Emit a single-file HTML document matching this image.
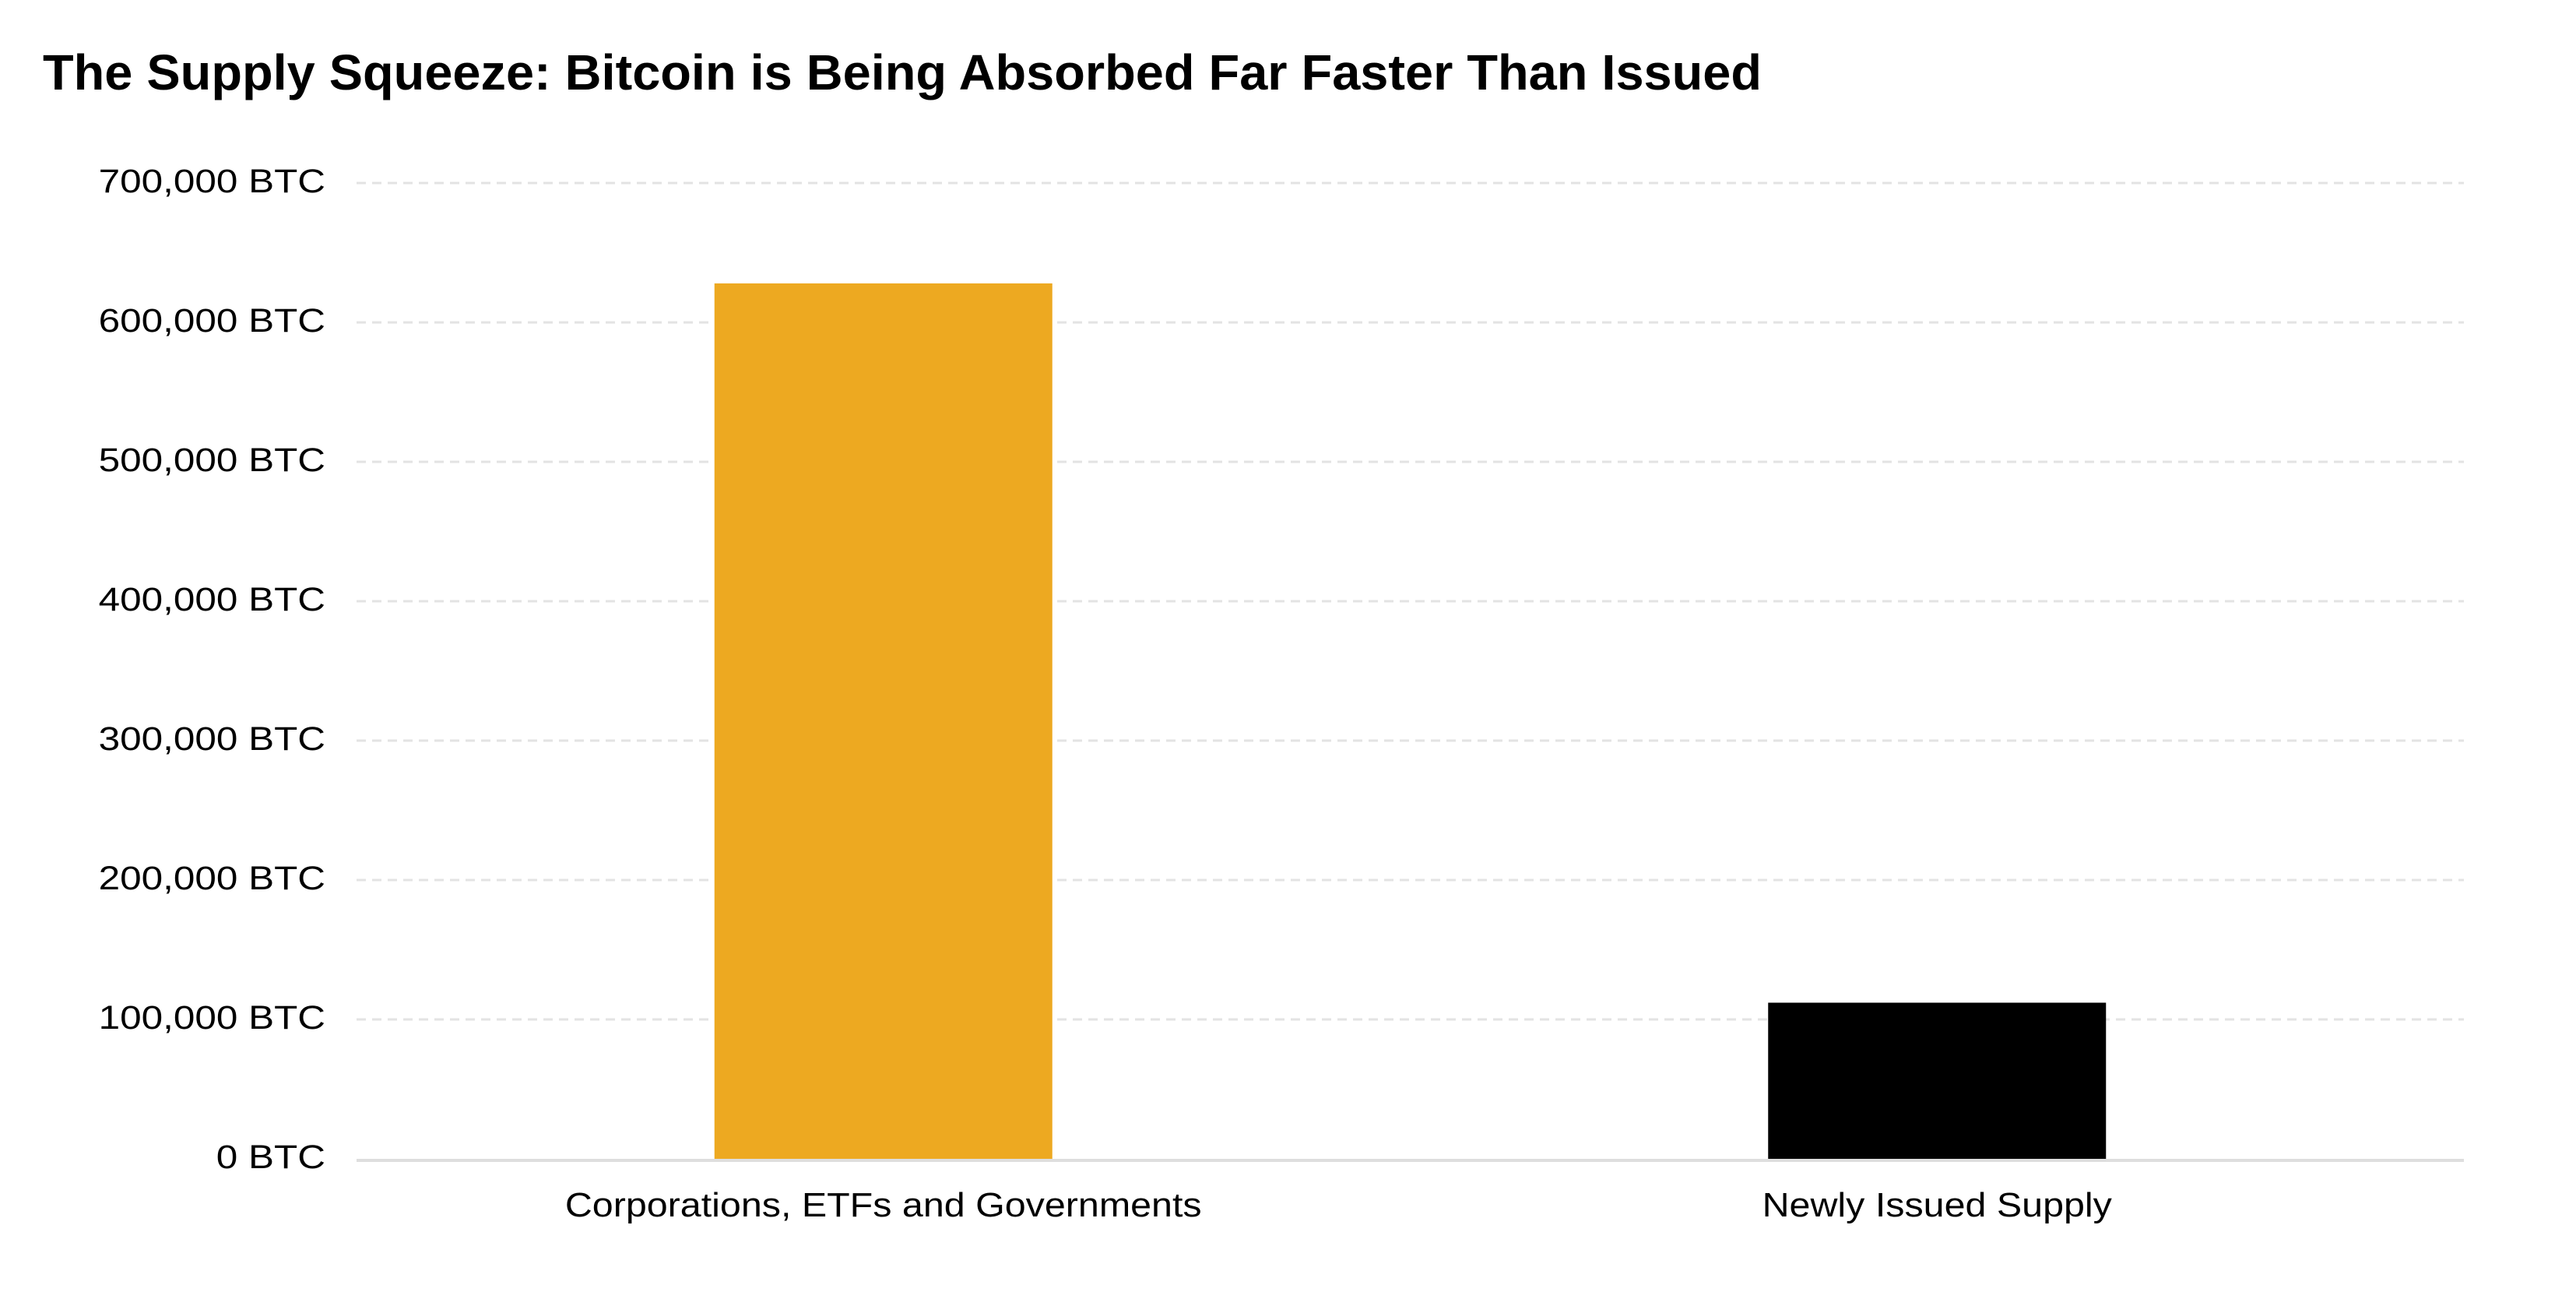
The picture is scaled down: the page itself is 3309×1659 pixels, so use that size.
<!DOCTYPE html>
<html><head><meta charset="utf-8"><style>
html,body{margin:0;padding:0;background:#fff;}
svg{display:block;font-family:"Liberation Sans",Arial,sans-serif;}
</style></head><body>
<svg id="chart" width="3309" height="1659" viewBox="0 0 3309 1659" xmlns="http://www.w3.org/2000/svg">
<rect width="3309" height="1659" fill="#fff"/>
<text x="55" y="115" font-size="64" font-weight="bold" fill="#000" textLength="2208" lengthAdjust="spacingAndGlyphs">The Supply Squeeze: Bitcoin is Being Absorbed Far Faster Than Issued</text>
<g id="grid"></g><g id="bars"></g><g id="axes"></g>
</svg>
<script>
const categories = ["Corporations, ETFs and Governments", "Newly Issued Supply"];
const values = [628000, 112000];
const colors = ["#EDA921", "#000000"];
const ticks = [0, 100000, 200000, 300000, 400000, 500000, 600000, 700000];
const tickLabels = ["0 BTC","100,000 BTC","200,000 BTC","300,000 BTC","400,000 BTC","500,000 BTC","600,000 BTC","700,000 BTC"];

const NS = "http://www.w3.org/2000/svg";
const L = 458, R = 3165, T = 235, B = 1488, yMax = 700000;
const y = v => B - (v / yMax) * (B - T);
const band = (R - L) / categories.length;
const xc = i => L + band * (i + 0.5);
const bw = 434;
const grid = document.getElementById('grid'), bars = document.getElementById('bars'), axes = document.getElementById('axes');
function mk(tag, attrs, parent){const e=document.createElementNS(NS,tag);for(const k in attrs)e.setAttribute(k,attrs[k]);parent.appendChild(e);return e;}
function widen(t, f){const w=t.getComputedTextLength();t.setAttribute('textLength', (w*f).toFixed(1));t.setAttribute('lengthAdjust','spacingAndGlyphs');}

ticks.forEach((t, i) => {
  if (t !== 0) {
    const g = mk('line', {x1:L, x2:R, y1:y(t), y2:y(t), stroke:'#e3e3e3', 'stroke-width':3, 'stroke-dasharray':'12 8'}, grid);
    
    
  }
  const lb = mk('text', {x:418, y:y(t)+12, 'text-anchor':'end', 'font-size':43, fill:'#000'}, axes);
  lb.textContent = tickLabels[i];
  
  
  widen(lb, 1.15);
});

categories.forEach((c, i) => {
  const r = mk('rect', {x:xc(i)-bw/2, y:y(values[i]), width:bw, height:B-y(values[i]), fill:colors[i]}, bars);
  
  
  const t = mk('text', {x:xc(i), y:1562, 'text-anchor':'middle', 'font-size':44, fill:'#000'}, axes);
  t.textContent = c;
  
  
  widen(t, 1.1);
});

const base = mk('line', {x1:L, x2:R, y1:B+2, y2:B+2, stroke:'#dedede', 'stroke-width':4}, axes);


</script>
</body></html>
